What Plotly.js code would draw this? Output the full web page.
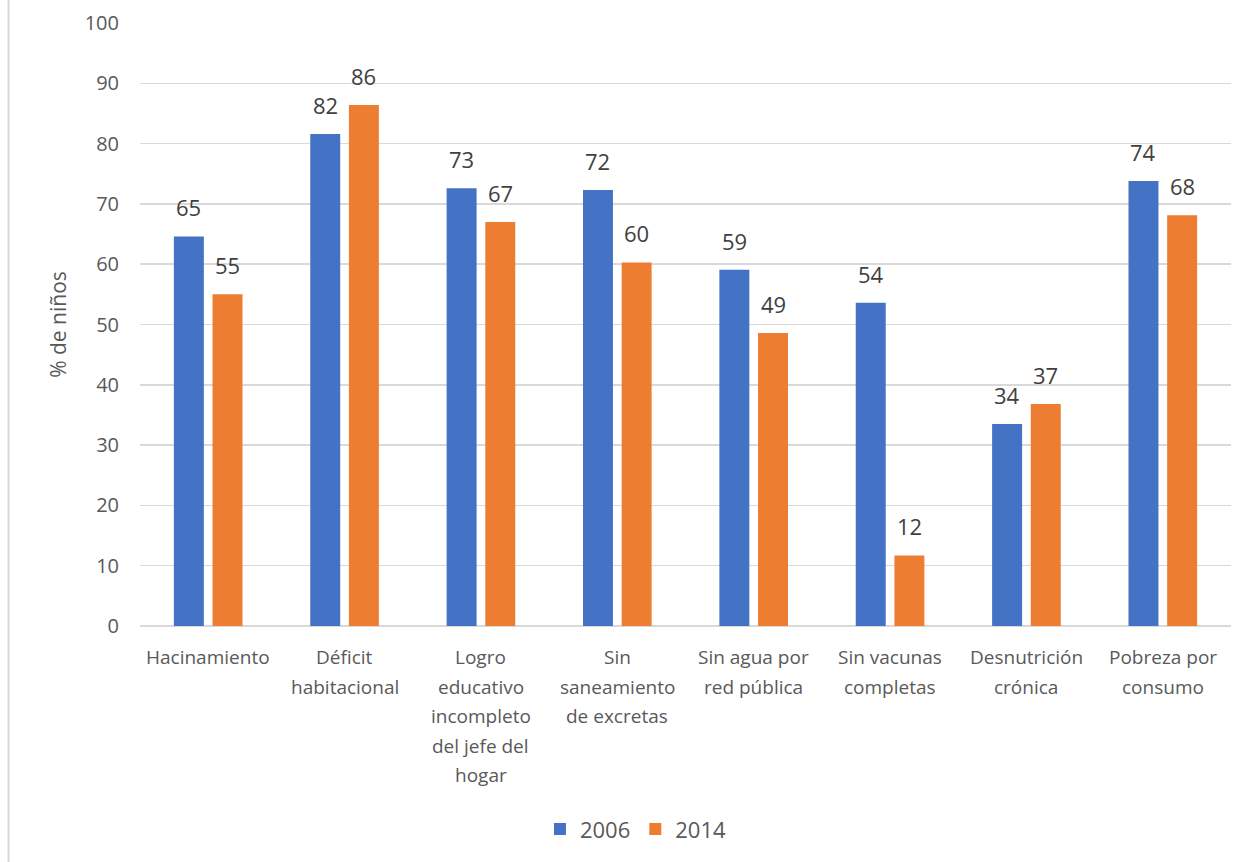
<!DOCTYPE html>
<html>
<head>
<meta charset="utf-8">
<script src="https://cdn.plot.ly/plotly-3.0.1.min.js"></script>
<style>
  html, body { margin: 0; padding: 0; background: #ffffff; }
  #chart { width: 1248px; height: 862px; }
</style>
</head>
<body>
<div id="chart"></div>
<script>
// Indicadores de privación en niños, 2006 vs 2014 (% de niños)
const categories = [
  "Hacinamiento",
  "Déficit<br>habitacional",
  "Logro<br>educativo<br>incompleto<br>del jefe del<br>hogar",
  "Sin<br>saneamiento<br>de excretas",
  "Sin agua por<br>red pública",
  "Sin vacunas<br>completas",
  "Desnutrición<br>crónica",
  "Pobreza por<br>consumo"
];
const values2006 = [64.6, 81.6, 72.6, 72.3, 59.1, 53.6, 33.5, 73.8];
const values2014 = [55.0, 86.4, 67.0, 60.3, 48.6, 11.7, 36.8, 68.1];
const seriesNames = ["2006", "2014"];
const yTickValues = [0, 10, 20, 30, 40, 50, 60, 70, 80, 90, 100];

const colors = ["#4472C4", "#ED7D31"];
const FONT = "'Open Sans', 'Segoe UI', sans-serif";
const BARGAP = 0.433;
const BARGROUPGAP = 0.225;

const catKeys = categories.map(c => c.replace(/<br>/g, " "));

const traces = [values2006, values2014].map((vals, k) => ({
  type: "bar",
  name: seriesNames[k],
  x: catKeys,
  y: vals,
  marker: { color: colors[k] },
  hoverinfo: "x+y+name"
}));

// Value labels above each bar, offset to each bar's slot inside the group
const slot = (1 - BARGAP) / 2;
const annotations = [];
[values2006, values2014].forEach((vals, k) => {
  const off = (k === 0 ? -1 : 1) * slot / 2;
  vals.forEach((v, i) => {
    annotations.push({
      x: i + off, xref: "x",
      y: v, yref: "y",
      yanchor: "bottom", xanchor: "center",
      yshift: 12,
      text: String(Math.round(v)),
      showarrow: false,
      font: { family: FONT, size: 22, color: "#404040" }
    });
  });
});

// Category labels, one annotation per line to keep Excel-like line spacing
categories.forEach((c, i) => {
  c.split("<br>").forEach((line, j) => {
    annotations.push({
      x: i, xref: "x",
      y: 0, yref: "paper",
      yanchor: "middle", xanchor: "center",
      yshift: -31 - 29.5 * j,
      text: line,
      showarrow: false,
      font: { family: FONT, size: 19, color: "#595959" }
    });
  });
});

const layout = {
  width: 1248,
  height: 862,
  margin: { l: 140, r: 17, t: 23, b: 236 },
  paper_bgcolor: "#ffffff",
  plot_bgcolor: "#ffffff",
  barmode: "group",
  bargap: BARGAP,
  bargroupgap: BARGROUPGAP,
  font: { family: FONT, color: "#595959" },
  xaxis: {
    type: "category",
    showticklabels: false,
    showgrid: false,
    zeroline: false,
    showline: false,
    ticks: "",
    range: [-0.5, categories.length - 0.5],
    fixedrange: true
  },
  yaxis: {
    range: [0, 100],
    tickvals: yTickValues,
    ticktext: yTickValues.map(String),
    showgrid: true,
    gridcolor: "#d9d9d9",
    gridwidth: 1.5,
    zeroline: true,
    zerolinecolor: "#d9d9d9",
    zerolinewidth: 1.5,
    showline: false,
    ticks: "",
    ticklabelstandoff: 20,
    tickfont: { family: FONT, size: 20, color: "#595959" },
    title: {
      text: "% de niños",
      font: { family: FONT, size: 21, color: "#595959" },
      standoff: 12
    },
    fixedrange: true
  },
  legend: {
    orientation: "h",
    x: 0.3666,
    xanchor: "left",
    y: -0.337,
    yanchor: "middle",
    font: { family: FONT, size: 22, color: "#595959" },
    bgcolor: "rgba(0,0,0,0)"
  },
  shapes: [{
    type: "line",
    xref: "paper", yref: "paper",
    x0: -0.1205, x1: -0.1205,
    y0: -0.45, y1: 1.05,
    line: { color: "#d9d9d9", width: 2 }
  }],
  annotations: annotations
};

Plotly.newPlot("chart", traces, layout, { displayModeBar: false, staticPlot: true });
</script>
</body>
</html>
